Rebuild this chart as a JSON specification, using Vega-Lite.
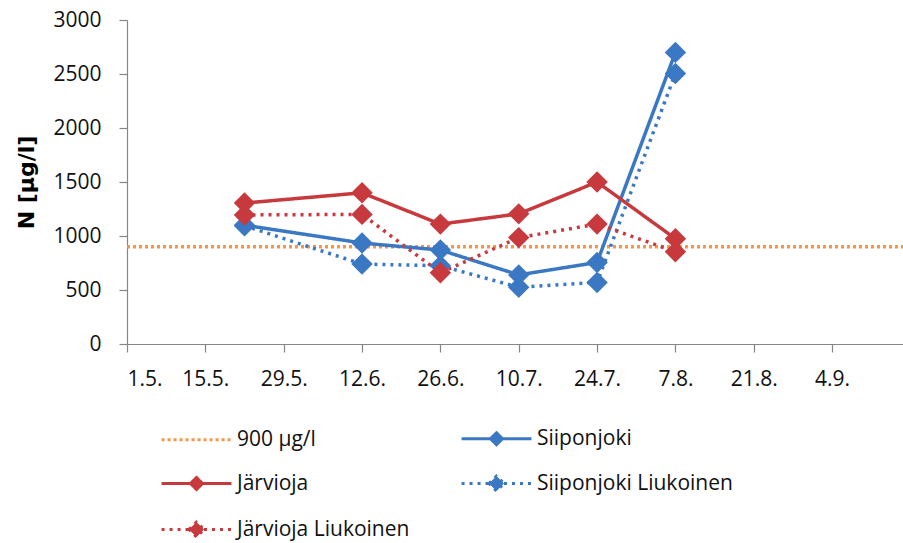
{
  "$schema": "https://vega.github.io/schema/vega-lite/v6.json",
  "width": 776,
  "height": 324,
  "autosize": "none",
  "padding": {"left": 127, "top": 20, "right": 0, "bottom": 199},
  "background": "white",
  "config": {
    "view": {"stroke": null},
    "font": "Open Sans",
    "axis": {"domainColor": "#868686", "tickColor": "#868686", "grid": false, "labelFont": "Open Sans", "labelFontSize": 21, "labelColor": "#111", "tickSize": 8, "domainWidth": 1.2, "tickWidth": 1.2}
  },
  "data": {
    "values": [
      {"date": "2013-05-01", "value": 900, "series": "900 µg/l"},
      {"date": "2013-09-16T16:00", "value": 900, "series": "900 µg/l"},
      {"date": "2013-05-22", "value": 1100, "series": "Siiponjoki"},
      {"date": "2013-06-12", "value": 935, "series": "Siiponjoki"},
      {"date": "2013-06-26", "value": 870, "series": "Siiponjoki"},
      {"date": "2013-07-10", "value": 640, "series": "Siiponjoki"},
      {"date": "2013-07-24", "value": 755, "series": "Siiponjoki"},
      {"date": "2013-08-07", "value": 2700, "series": "Siiponjoki"},
      {"date": "2013-05-22", "value": 1305, "series": "Järvioja"},
      {"date": "2013-06-12", "value": 1400, "series": "Järvioja"},
      {"date": "2013-06-26", "value": 1110, "series": "Järvioja"},
      {"date": "2013-07-10", "value": 1205, "series": "Järvioja"},
      {"date": "2013-07-24", "value": 1500, "series": "Järvioja"},
      {"date": "2013-08-07", "value": 975, "series": "Järvioja"},
      {"date": "2013-05-22", "value": 1095, "series": "Siiponjoki Liukoinen"},
      {"date": "2013-06-12", "value": 740, "series": "Siiponjoki Liukoinen"},
      {"date": "2013-06-26", "value": 725, "series": "Siiponjoki Liukoinen"},
      {"date": "2013-07-10", "value": 525, "series": "Siiponjoki Liukoinen"},
      {"date": "2013-07-24", "value": 570, "series": "Siiponjoki Liukoinen"},
      {"date": "2013-08-07", "value": 2505, "series": "Siiponjoki Liukoinen"},
      {"date": "2013-05-22", "value": 1195, "series": "Järvioja Liukoinen"},
      {"date": "2013-06-12", "value": 1200, "series": "Järvioja Liukoinen"},
      {"date": "2013-06-26", "value": 660, "series": "Järvioja Liukoinen"},
      {"date": "2013-07-10", "value": 985, "series": "Järvioja Liukoinen"},
      {"date": "2013-07-24", "value": 1110, "series": "Järvioja Liukoinen"},
      {"date": "2013-08-07", "value": 855, "series": "Järvioja Liukoinen"}
    ]
  },
  "encoding": {
    "x": {
      "field": "date", "type": "temporal",
      "scale": {"domain": ["2013-05-01", "2013-09-16T16:00"]},
      "axis": {
        "title": null,
        "format": "%-d.%-m.",
        "labelPadding": 16,
        "values": ["2013-05-01", "2013-05-15", "2013-05-29", "2013-06-12", "2013-06-26", "2013-07-10", "2013-07-24", "2013-08-07", "2013-08-21", "2013-09-04"]
      }
    },
    "y": {
      "field": "value", "type": "quantitative",
      "scale": {"domain": [0, 3000]},
      "axis": {
        "title": "N [µg/l]", "titleFont": "DejaVu Sans", "titleFontSize": 22, "titleFontWeight": "bold", "titleColor": "#000",
        "titlePadding": 14, "values": [0, 500, 1000, 1500, 2000, 2500, 3000], "format": "d", "labelPadding": 18
      }
    }
  },
  "layer": [
    {
      "mark": {"type": "line"},
      "encoding": {
        "color": {
          "field": "series", "type": "nominal",
          "scale": {
            "domain": ["900 µg/l", "Järvioja", "Järvioja Liukoinen", "Siiponjoki", "Siiponjoki Liukoinen"],
            "range": ["#F79646", "#C8393D", "#C8393D", "#3B78C4", "#3B78C4"]
          },
          "legend": {
            "title": null,
            "orient": "none",
            "legendX": 53,
            "legendY": 402,
            "columns": 2,
            "columnPadding": 45,
            "rowPadding": 16,
            "symbolSize": 900,
            "symbolStrokeWidth": 3,
            "labelFont": "Open Sans",
            "labelFontSize": 21,
            "labelColor": "#111",
            "labelOffset": 24,
            "labelLimit": 400,
            "symbolType": "M-2.33,0L2.33,0",
            "encode": {
              "symbols": {
                "update": {
                  "shape": {"signal": "datum.value === '900 µg/l' ? 'M-2.33,0L2.33,0' : (indexof(datum.value, 'Liukoinen') >= 0 ? 'M-2.33,0L-0.5,0M0.5,0L2.33,0M-0.5,0L0,-0.5L0.5,0L0,0.5Z' : 'M-2.33,0L-0.4,0M0.4,0L2.33,0M-0.4,0L0,-0.4L0.4,0L0,0.4Z')"},
                  "fill": {"signal": "datum.value === '900 µg/l' ? 'transparent' : scale('color', datum.value)"},
                  "fillOpacity": {"value": 1}
                }
              }
            }
          }
        },
        "strokeDash": {
          "field": "series", "type": "nominal",
          "scale": {
            "domain": ["900 µg/l", "Järvioja", "Järvioja Liukoinen", "Siiponjoki", "Siiponjoki Liukoinen"],
            "range": [[3, 3], [1, 0], [3, 5], [1, 0], [3, 5]]
          },
          "legend": null
        },
        "strokeWidth": {"value": 3.5}
      }
    },
    {
      "transform": [{"filter": "datum.series !== '900 µg/l'"}],
      "mark": {"type": "point", "shape": "diamond", "filled": true, "size": 460, "opacity": 1},
      "encoding": {
        "color": {"field": "series", "type": "nominal", "legend": null}
      }
    }
  ]
}
